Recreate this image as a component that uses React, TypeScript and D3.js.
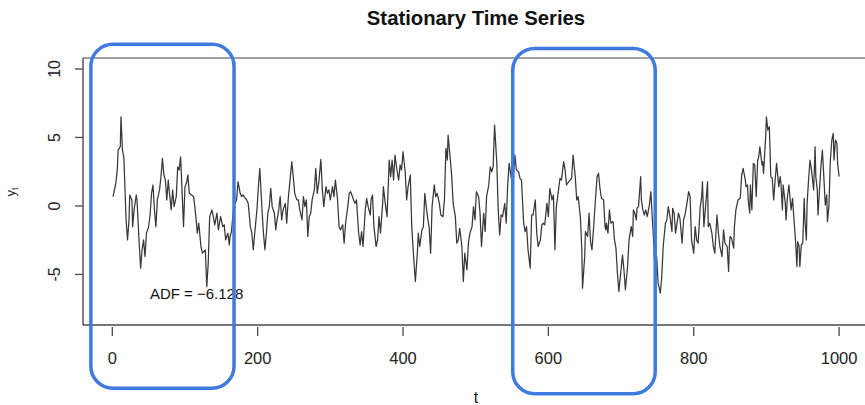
import React from "react";
import * as d3 from "d3";

// Simulated stationary AR-type series: [t, y_t] pairs, in six consecutive stretches.
const stretch1: [number, number][] = [
  [1, 0.68], [5, 1.7], [7, 2.74], [8, 4.08], [11, 4.32], [12, 6.51], [14, 4.08], [16, 3.47],
  [19, -1.02], [21, -2.48], [23, -1.02], [24, 0.8], [27, 0.44], [28, -1.51], [30, -0.29], [33, 0.8],
  [34, 0.44], [37, -2.72], [39, -4.54], [41, -3.2], [43, -2.48], [45, -3.69], [47, -1.99], [50, -1.51],
  [52, -0.66], [54, 0.92], [56, 1.53], [58, -0.29], [60, -1.51], [62, 0.44], [65, 1.17], [67, 2.14],
  [69, 3.47], [71, 2.26], [73, 1.89], [75, 0.44], [77, 1.89], [78, 1.29], [81, -0.29], [83, 1.17],
  [85, -0.05], [88, 0.68], [90, 2.86], [92, 2.62], [94, 3.59], [95, 2.38], [98, -1.51], [100, 1.41],
  [102, 1.65], [104, 2.26], [106, 0.92], [109, 0.8], [112, 0.68], [115, -0.78], [117, -1.99], [119, -1.26],
  [122, -2.96], [124, -3.45], [128, -3.2], [130, -5.88], [132, -4.18], [134, -0.78], [137, -0.29], [139, -0.78],
  [141, -1.38], [144, -0.53], [146, -1.75], [149, -0.78], [152, -1.51], [154, -1.38], [156, -2.48], [159, -1.99],
  [161, -2.84],
];

const stretch2: [number, number][] = [
  [162, -2.23], [164, -1.87], [167, -0.05], [171, 0.44], [173, 1.77], [176, 0.92], [178, 0.68], [180, 0.8],
  [183, 0.56], [185, 0.44], [187, 0.19], [190, -1.51], [192, -1.99], [194, -3.2], [196, -1.99], [199, -0.29],
  [201, 1.41], [203, 2.74], [206, -0.29], [208, -1.99], [210, -3.2], [212, -1.99], [214, -0.53], [216, -0.05],
  [218, 1.29], [220, -0.05], [223, -0.53], [225, -1.75], [226, -1.26], [229, -0.29], [231, 0.68], [233, -1.02],
  [235, -0.29], [238, 0.19], [240, -1.26], [242, 0.44], [245, 2.14], [247, 3.23], [249, 2.14], [251, 0.92],
  [254, 0.44], [256, 0.44], [258, -0.29], [261, -1.02], [263, 0.68], [265, -0.05], [267, 0.44], [269, -2.23],
  [271, -0.78], [273, -0.53], [275, 0.44], [278, 1.17], [280, 2.74], [282, 0.92], [284, 1.65], [287, 3.4],
  [289, 1.17], [291, -0.05], [294, 1.41], [296, 0.92], [298, 1.17], [300, 0.44], [303, 1.41], [305, 0.68],
  [307, 1.89], [310, 0.44], [312, -1.51], [314, -1.75], [317, -1.38], [319, -2.72], [321, -1.26], [324, -0.05],
  [326, 0.92], [328, 1.04], [332, 0.44], [334, 0.19],
];

const stretch3: [number, number][] = [
  [336, 0.44], [339, -1.99], [341, -2.84], [343, -1.87], [345, -2.96], [348, -0.29], [350, 0.56], [352, -0.05],
  [355, -0.66], [356, 0.44], [358, 0.8], [360, -1.51], [363, -2.96], [365, -2.48], [367, -0.78], [369, -1.99],
  [372, 0.19], [373, 1.41], [375, 0.44], [378, -0.78], [380, 1.89], [381, 3.35], [383, 2.14], [385, 3.35],
  [387, 1.89], [389, 3.71], [391, 2.86], [394, 1.89], [396, 2.99], [398, 2.62], [400, 3.96], [403, 2.5],
  [405, 0.44], [407, 1.41], [410, 2.26], [412, -1.51], [414, -3.2], [417, -5.51], [420, -3.2], [421, -1.99],
  [423, -2.96], [426, -1.75], [428, -1.51], [430, 0.92], [433, -0.53], [436, -1.63], [438, -3.45], [440, -0.05],
  [443, 1.53], [445, 0.68], [447, 0.92], [450, 0.19], [452, -0.66], [455, -0.78], [457, 0.44], [459, 4.2],
  [461, 3.35], [462, 5.17], [465, 3.47], [467, 2.14], [469, 0.19], [472, -0.78], [474, -2.72], [476, -2.48],
  [478, -1.63], [481, -2.96], [483, -5.51], [485, -3.45], [488, -4.66], [490, -2.72], [492, -1.99], [495, -1.51],
  [497, -0.05], [499, -1.02], [501, 1.04], [504, 0.68], [506, -0.53],
];

const stretch4: [number, number][] = [
  [508, -2.96], [511, -0.53], [513, -1.87], [515, 0.68], [518, 1.53], [520, 2.86], [522, 2.5], [524, 2.86],
  [526, 5.9], [528, 4.08], [529, 3.23], [531, -0.29], [533, -2.11], [535, -0.66], [537, -0.78], [540, 0.19],
  [542, -1.26], [544, 1.53], [546, 3.11], [549, 2.02], [552, 2.14], [554, 3.71], [556, 2.62], [559, 2.5],
  [561, 2.02], [563, 1.89], [566, -1.26], [568, -1.87], [570, -1.51], [572, -3.2], [575, -4.54], [577, -0.66],
  [579, -0.66], [582, 0.44], [584, -1.99], [586, -2.96], [589, -2.48], [591, -1.38], [593, -1.26], [595, -1.38],
  [598, 0.19], [600, -0.78], [602, 1.29], [605, 0.44], [607, 0.8], [609, -3.2], [611, -0.05], [614, 1.17],
  [616, 2.02], [618, 1.89], [621, 3.23], [623, 2.62], [625, 1.53], [628, 1.77], [630, 1.89], [632, 2.02],
  [634, 3.71], [637, 2.14], [639, 0.44], [641, 0.68], [644, -0.78], [646, -3.2], [647, -6.0], [650, -3.69],
  [651, -1.87], [654, -2.23], [656, -0.53], [658, -2.6], [660, -3.2], [662, -1.75], [664, -0.17], [667, 2.14],
  [669, 2.38], [671, 1.29], [673, 0.56], [676, 0.44], [678, -1.51],
];

const stretch5: [number, number][] = [
  [679, -1.75], [680, -1.26], [682, -1.99], [684, -0.29], [686, -1.26], [689, -1.14], [691, -2.48], [693, -3.08],
  [695, -4.9], [697, -6.24], [700, -4.66], [702, -3.57], [704, -4.66], [706, -6.12], [709, -4.42], [711, -2.48],
  [714, -1.51], [716, -2.23], [717, -0.29], [719, -0.53], [721, -1.02], [722, -0.17], [724, -0.05], [725, 0.68],
  [727, 2.14], [728, 0.44], [730, -0.29], [732, -0.66], [734, -0.29], [736, -0.78], [739, 0.07], [741, 1.04],
  [743, -0.9], [745, -2.72], [746, -3.93], [749, -3.69], [751, -5.63], [754, -6.36], [756, -5.15], [758, -2.96],
  [761, -1.26], [763, -1.02], [765, -0.05], [768, -1.02], [770, -1.87], [771, -0.17], [773, -0.53], [775, -1.99],
  [777, -1.26], [779, -0.53], [781, -0.9], [784, -2.72], [786, -1.02], [788, -0.66], [790, -0.05], [793, 1.04],
  [795, 0.68], [797, -2.48], [800, -3.45], [802, -1.51], [804, -2.48], [806, -2.72], [809, -0.05], [811, 0.68],
  [812, 1.77], [814, -1.51], [817, 0.44], [819, 1.77], [820, -1.51], [822, -1.26], [825, -1.99], [827, -2.96],
  [829, -3.45], [832, -0.66], [834, -1.99], [836, -2.96], [839, -3.69], [841, -1.75],
];

const stretch6: [number, number][] = [
  [843, -2.72], [846, -2.96], [848, -4.78], [849, -2.96], [850, -2.23], [852, -2.35], [855, -3.08], [856, -1.51],
  [858, -0.29], [859, -0.05], [861, 0.44], [864, 0.56], [866, 2.26], [868, 2.74], [871, 1.89], [872, 1.41],
  [874, 1.53], [875, 0.44], [877, -0.53], [878, 1.53], [880, -0.29], [882, 3.11], [884, 2.99], [886, 0.68],
  [888, 3.35], [889, 3.47], [890, 3.84], [891, 4.32], [894, 2.99], [895, 3.23], [896, 2.38], [897, 3.23],
  [899, 5.05], [900, 6.51], [902, 5.54], [904, 5.78], [905, 4.08], [906, 2.14], [908, 2.02], [910, 0.44],
  [912, 1.89], [914, 3.11], [917, 1.41], [919, 2.14], [920, 1.65], [922, -0.29], [923, 1.53], [926, 0.19],
  [927, -1.02], [929, 0.68], [931, 1.53], [934, -0.29], [936, 0.56], [938, -1.02], [940, -2.48], [942, -4.42],
  [943, -2.6], [945, -2.96], [946, -4.42], [948, -2.84], [950, -2.72], [952, 0.56], [953, -1.02], [955, -2.48],
  [956, 0.19], [958, 1.89], [960, 3.35], [962, 2.62], [965, 1.17], [967, 4.32], [968, 2.14], [970, 1.17],
  [971, -0.66], [973, 1.17], [975, 2.86], [977, 4.08], [979, 2.14], [981, 0.07], [983, 0.8], [984, -1.14],
  [986, -0.05], [988, 3.35], [990, 4.81], [992, 5.29], [993, 3.35], [995, 4.81], [997, 4.56], [998, 3.11],
  [1000, 2.14],
];

const series = [...stretch1, ...stretch2, ...stretch3, ...stretch4, ...stretch5, ...stretch6];

const xTicks = [0, 200, 400, 600, 800, 1000];
const yTicks = [-5, 0, 5, 10];

const titleText = "Stationary Time Series";
const xLabel = "t";
const adfLabel = "ADF = \u22126.128";
const adfAt: [number, number] = [116, -6.4];

// Highlighted windows: [t0, t1, yLow, yHigh]
const windows: [number, number, number, number][] = [
  [-29.5, 167.5, -13.3, 11.8],
  [551, 747, -13.7, 11.5],
];

const W = 865;
const H = 405;
const box = { left: 83, right: 880, top: 58, bottom: 325 };

export default function App() {
  const x = d3.scaleLinear().domain([-40.3, 1056.3]).range([box.left, box.right]);
  const y = d3.scaleLinear().domain([-8.69, 10.8]).range([box.bottom, box.top]);

  const line = d3
    .line<[number, number]>()
    .x((d) => x(d[0]))
    .y((d) => y(d[1]));

  const font = "'Liberation Sans', Arial, Helvetica, sans-serif";
  const axisColor = "#4a4a4a";

  return (
    <svg
      width={W}
      height={H}
      viewBox={`0 0 ${W} ${H}`}
      style={{ position: "absolute", left: 0, top: 0, background: "#fff" }}
      fontFamily={font}
    >
      <rect width={W} height={H} fill="#fff" />

      {/* title */}
      <text x={476} y={25} textAnchor="middle" fontSize={20.3} fontWeight="bold" fill="#111">
        {titleText}
      </text>

      {/* plot frame */}
      <line x1={box.left} x2={W} y1={box.top} y2={box.top} stroke="#a0a0a0" strokeWidth={2} />
      <line x1={box.left} x2={box.left} y1={box.top} y2={box.bottom} stroke={axisColor} strokeWidth={1.4} />
      <line x1={box.left} x2={W} y1={box.bottom} y2={box.bottom} stroke={axisColor} strokeWidth={1.4} />

      {/* y axis */}
      {yTicks.map((v) => (
        <g key={`y${v}`}>
          <line x1={box.left - 8} x2={box.left} y1={y(v)} y2={y(v)} stroke={axisColor} strokeWidth={1.3} />
          <text
            transform={`translate(60,${y(v)}) rotate(-90)`}
            textAnchor="middle"
            fontSize={16}
            fill="#222"
          >
            {v}
          </text>
        </g>
      ))}
      <text transform={`translate(15,192) rotate(-90)`} textAnchor="middle" fontSize={13} fill="#222">
        y
        <tspan fontSize={9} dy={2.5}>
          t
        </tspan>
      </text>

      {/* x axis */}
      {xTicks.map((v) => (
        <g key={`x${v}`}>
          <line x1={x(v)} x2={x(v)} y1={box.bottom + 2} y2={box.bottom + 11} stroke={axisColor} strokeWidth={1.3} />
          <text x={x(v)} y={364} textAnchor="middle" fontSize={16.5} fill="#222">
            {v}
          </text>
        </g>
      ))}
      <text x={476} y={403} textAnchor="middle" fontSize={16} fill="#222">
        {xLabel}
      </text>

      {/* series */}
      <path d={line(series) ?? ""} fill="none" stroke="#383838" strokeWidth={1.25} strokeLinejoin="round" />

      {/* ADF statistic */}
      <text x={x(adfAt[0])} y={y(adfAt[1])} textAnchor="middle" dominantBaseline="central" fontSize={15} fill="#111">
        {adfLabel}
      </text>

      {/* highlighted windows */}
      {windows.map(([t0, t1, lo, hi], i) => (
        <rect
          key={`w${i}`}
          x={x(t0)}
          y={y(hi)}
          width={x(t1) - x(t0)}
          height={y(lo) - y(hi)}
          rx={22}
          ry={22}
          fill="none"
          stroke="#3f7ae0"
          strokeWidth={3.5}
        />
      ))}
    </svg>
  );
}
